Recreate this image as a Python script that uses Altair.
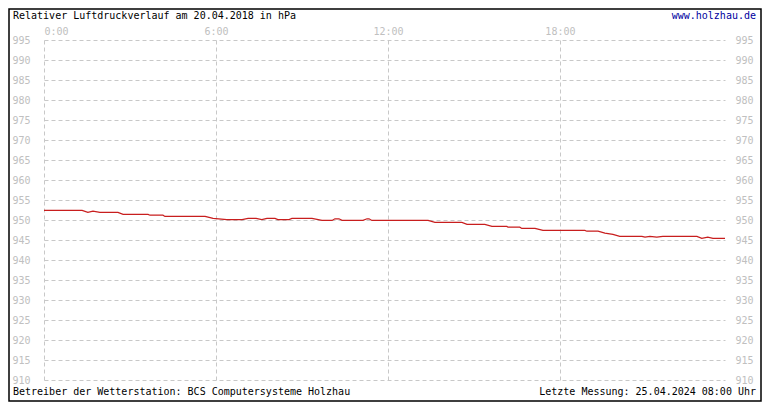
import altair as alt
import pandas as pd

# --- data ---
hours = [0, 1.33, 1.53, 1.71, 1.95, 2.58, 2.76, 3.63, 3.70, 4.15, 4.22, 5.62, 5.90,
         6.38, 6.91, 7.12, 7.40, 7.60, 7.78, 8.06, 8.16, 8.55, 8.65, 9.35, 9.70,
         10.05, 10.15, 10.29, 10.40, 11.13, 11.27, 11.34, 11.44, 13.40, 13.64,
         14.58, 14.76, 15.38, 15.63, 16.15, 16.19, 16.60, 16.67, 17.13, 17.41,
         18.87, 18.94, 19.33, 19.57, 19.85, 20.09, 20.86, 20.97, 21.14, 21.38,
         21.59, 22.78, 22.95, 23.16, 23.34, 23.76]
pressure = [952.4, 952.4, 951.9, 952.2, 951.9, 951.9, 951.4, 951.4, 951.2, 951.2,
            950.9, 950.9, 950.4, 950.1, 950.1, 950.4, 950.4, 950.1, 950.4, 950.4,
            950.1, 950.1, 950.4, 950.4, 949.9, 949.9, 950.3, 950.3, 949.9, 949.9,
            950.3, 950.3, 949.9, 949.9, 949.4, 949.4, 948.9, 948.9, 948.4, 948.4,
            948.2, 948.2, 947.9, 947.9, 947.4, 947.4, 947.2, 947.2, 946.7, 946.4,
            945.9, 945.9, 945.7, 945.9, 945.7, 945.9, 945.9, 945.4, 945.7, 945.4,
            945.4]
x_ticks = [0, 6, 12, 18]
y_ticks = list(range(910, 1000, 5))

title_text = "Relativer Luftdruckverlauf am 20.04.2018 in hPa"
site_text = "www.holzhau.de"
footer_left = "Betreiber der Wetterstation: BCS Computersysteme Holzhau"
footer_right = "Letzte Messung: 25.04.2024 08:00 Uhr"

df = pd.DataFrame({"h": hours, "p": pressure})

FONT = "DejaVu Sans Mono"
GRID = "#c8c8c8"
LABEL = "#c0c0c0"
W, H = 681, 340

xscale = alt.Scale(domain=[0, 23.76], nice=False, zero=False)
yscale = alt.Scale(domain=[910, 995], nice=False, zero=False)

xaxis = alt.Axis(orient="top", values=x_ticks, labelExpr="datum.value + ':00'",
                 title=None, grid=True, gridColor=GRID, gridDash=[4, 3],
                 domain=False, ticks=False, labelColor=LABEL, labelFont=FONT,
                 labelFontSize=10, labelPadding=4)

left_axis = alt.Axis(orient="left", values=y_ticks, title=None, grid=True,
                     gridColor=GRID, gridDash=[4, 3], domain=False, ticks=False,
                     labelColor=LABEL, labelFont=FONT, labelFontSize=10,
                     labelPadding=14)
right_axis = alt.Axis(orient="right", values=y_ticks, title=None, grid=False,
                      domain=False, ticks=False, labelColor=LABEL, labelFont=FONT,
                      labelFontSize=10, labelPadding=10)

base = alt.Chart(df)

line = base.mark_line(color="#c81e1e", strokeWidth=1.2, interpolate="linear").encode(
    x=alt.X("h:Q", scale=xscale, axis=xaxis),
    y=alt.Y("p:Q", scale=yscale, axis=left_axis),
)

ghost = base.mark_line(opacity=0).encode(
    x=alt.X("h:Q", scale=xscale, axis=xaxis),
    y=alt.Y("p:Q", scale=yscale, axis=right_axis),
)

frame = alt.Chart(pd.DataFrame({"a": [0]})).mark_rect(
    fill=None, stroke="black", strokeWidth=1.5
).encode(
    x=alt.value(-35), x2=alt.value(W + 36), y=alt.value(-31), y2=alt.value(H + 21)
)

def txt(s, xv, yv, align="left", color="black"):
    return alt.Chart(pd.DataFrame({"t": [s]})).mark_text(
        font=FONT, fontSize=10, align=align, baseline="middle", color=color
    ).encode(x=alt.value(xv), y=alt.value(yv), text="t:N")

t1 = txt(title_text, -31, -24)
t2 = txt(site_text, W + 31, -24, align="right", color="#0000a0")
t3 = txt(footer_left, -31, H + 12)
t4 = txt(footer_right, W + 31, H + 12, align="right")

chart = alt.layer(line, ghost, frame, t1, t2, t3, t4).resolve_axis(
    y="independent"
).properties(
    width=W, height=H,
    padding={"left": 36, "top": 32, "right": 37, "bottom": 22},
    autosize=alt.AutoSizeParams(type="none"),
    background="white",
).configure_view(stroke=None)

chart.save("out.html", embed_options={"renderer": "svg", "actions": False})
